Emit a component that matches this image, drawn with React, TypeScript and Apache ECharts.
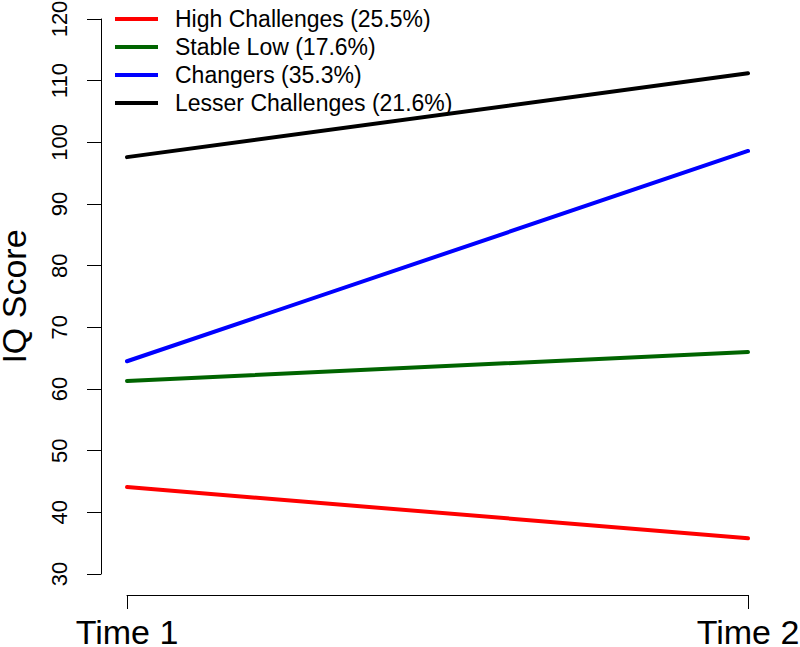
import React, { useEffect, useRef } from "react";
import * as echarts from "echarts";

const categories = ["Time 1", "Time 2"];
const seriesNames = [
  "High Challenges (25.5%)",
  "Stable Low (17.6%)",
  "Changers (35.3%)",
  "Lesser Challenges (21.6%)",
];
const highChallenges = [44.1, 35.8];
const stableLow = [61.3, 66.0];
const changers = [64.5, 98.6];
const lesserChallenges = [97.6, 111.2];
const seriesColors = ["#FF0000", "#006400", "#0000FF", "#000000"];
const yTicks = { min: 30, max: 120, interval: 10 };

const FONT = "'Liberation Sans', Arial, Helvetica, sans-serif";

export default function App() {
  const ref = useRef<HTMLDivElement>(null);
  useEffect(() => {
    if (!ref.current) return;
    const chart = echarts.init(ref.current, undefined, { renderer: "svg" });
    const values = [highChallenges, stableLow, changers, lesserChallenges];
    chart.setOption({
      animation: false,
      backgroundColor: "#ffffff",
      textStyle: { fontFamily: FONT },
      grid: {
        left: 127,
        right: 52,
        top: 19,
        bottom: 73,
        containLabel: false,
        outerBoundsMode: "none",
      },
      legend: {
        orient: "vertical",
        left: 110,
        top: 0,
        itemGap: 0,
        itemWidth: 43,
        itemHeight: 4,
        icon: "rect",
        data: seriesNames,
        selectedMode: false,
        textStyle: {
          fontFamily: FONT,
          fontSize: 23,
          color: "#000",
          lineHeight: 28,
          padding: [0, 0, 0, 12],
        },
      },
      xAxis: {
        type: "category",
        data: categories,
        boundaryGap: false,
        offset: 21,
        axisLine: { lineStyle: { color: "#000", width: 1 } },
        axisTick: { length: 14, lineStyle: { color: "#000", width: 1 } },
        axisLabel: {
          fontFamily: FONT,
          fontSize: 34,
          color: "#000",
          margin: 20,
          hideOverlap: false,
        },
        splitLine: { show: false },
      },
      yAxis: {
        type: "value",
        min: yTicks.min,
        max: yTicks.max,
        interval: yTicks.interval,
        offset: 26,
        name: "IQ Score",
        nameLocation: "middle",
        nameRotate: 90,
        nameGap: 70,
        nameTextStyle: { fontFamily: FONT, fontSize: 34, color: "#000" },
        axisLine: { show: true, lineStyle: { color: "#000", width: 1 } },
        axisTick: { show: true, length: 14, lineStyle: { color: "#000", width: 1 } },
        axisLabel: { fontFamily: FONT, fontSize: 22, color: "#000", rotate: 90, margin: 31 },
        splitLine: { show: false },
      },
      series: seriesNames.map((name, i) => ({
        name,
        type: "line",
        data: values[i],
        symbol: "none",
        color: seriesColors[i],
        lineStyle: { color: seriesColors[i], width: 4, cap: "round" },
      })),
    });
    return () => chart.dispose();
  }, []);
  return (
    <div
      ref={ref}
      style={{ position: "absolute", left: 0, top: 0, width: 800, height: 647 }}
    />
  );
}
